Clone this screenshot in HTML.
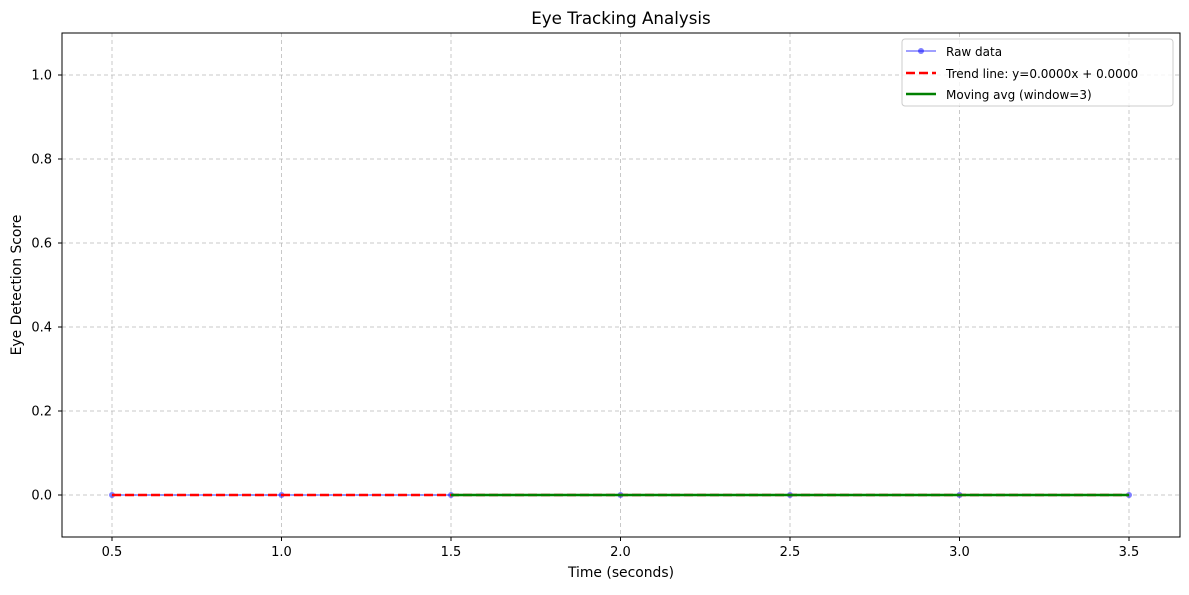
<!DOCTYPE html>
<html><head><meta charset="utf-8"><style>
body{margin:0;background:#fff;font-family:"Liberation Sans","DejaVu Sans",sans-serif}
svg text{font-family:"DejaVu Sans","Liberation Sans",sans-serif}
</style></head><body>
<svg id="chart" width="1189" height="590" xmlns="http://www.w3.org/2000/svg">
<rect width="1189" height="590" fill="#fff"/>
<g id="grid"></g><g id="series"></g>
<rect x="62" y="33" width="1118" height="504" fill="none" stroke="#000" stroke-width="1"/>
<g id="ticks"></g>
<text x="621" y="24" text-anchor="middle" font-size="16.7">Eye Tracking Analysis</text>
<text x="621" y="577" text-anchor="middle" font-size="13.9">Time (seconds)</text>
<text transform="translate(21,285) rotate(-90)" text-anchor="middle" font-size="13.9">Eye Detection Score</text>
<g>
<rect x="902" y="39" width="271" height="67" rx="3" fill="#fff" fill-opacity="0.8" stroke="#ccc"/>
<g><line x1="906" y1="51" x2="936" y2="51" stroke="#0000ff" stroke-opacity="0.5" stroke-width="1.5"/><circle cx="921" cy="51" r="3" fill="#0000ff" fill-opacity="0.5"/><text x="946" y="56" font-size="12">Raw data</text></g>
<g><line x1="906" y1="73" x2="936" y2="73" stroke="#ff0000" stroke-width="2.5" stroke-dasharray="9,4"/><text x="946" y="78" font-size="12">Trend line: y=0.0000x + 0.0000</text></g>
<g><line x1="906" y1="94" x2="936" y2="94" stroke="#008000" stroke-width="2.5"/><text x="946" y="99" font-size="12">Moving avg (window=3)</text></g>
</g>
</svg>
<script>
const times=[0.5,1.0,1.5,2.0,2.5,3.0,3.5];
const rawScores=[0,0,0,0,0,0,0];
const trendSlope=0, trendIntercept=0;
const maTimes=[1.5,2.0,2.5,3.0,3.5];
const maScores=[0,0,0,0,0];
const xTicks=[0.5,1.0,1.5,2.0,2.5,3.0,3.5];
const yTicks=[0.0,0.2,0.4,0.6,0.8,1.0];
const NS="http://www.w3.org/2000/svg";
const xs=v=>112+(v-0.5)*339, ys=v=>495-v*420;
function mk(t,a,p){const e=document.createElementNS(NS,t);for(const k in a)e.setAttribute(k,a[k]);p.appendChild(e);return e;}
const G=document.getElementById('grid'),S=document.getElementById('series'),T=document.getElementById('ticks');
xTicks.forEach(v=>{const x=xs(v);
const g=mk('line',{x1:x,x2:x,y1:33,y2:537,stroke:'#b0b0b0','stroke-opacity':0.7,'stroke-dasharray':'4,3'},G);

mk('line',{x1:x,x2:x,y1:537,y2:541,stroke:'#000'},T);
const t=mk('text',{x:x,y:556,'text-anchor':'middle','font-size':13},T);t.textContent=v.toFixed(1);
});
yTicks.forEach(v=>{const y=ys(v);
const g=mk('line',{x1:62,x2:1180,y1:y,y2:y,stroke:'#b0b0b0','stroke-opacity':0.7,'stroke-dasharray':'4,3'},G);

mk('line',{x1:58,x2:62,y1:y,y2:y,stroke:'#000'},T);
const t=mk('text',{x:52,y:y+4.5,'text-anchor':'end','font-size':13},T);t.textContent=v.toFixed(1);
});
const raw=mk('polyline',{points:times.map((t,i)=>xs(t)+','+ys(rawScores[i])).join(' '),fill:'none',stroke:'#0000ff','stroke-opacity':0.5,'stroke-width':1.5},S);

times.forEach((t,i)=>{const c=mk('circle',{cx:xs(t),cy:ys(rawScores[i]),r:3,fill:'#0000ff','fill-opacity':0.5},S);
});
const t0=times[0],t1=times[times.length-1];
const tr=mk('line',{x1:xs(t0),y1:ys(trendSlope*t0+trendIntercept),x2:xs(t1),y2:ys(trendSlope*t1+trendIntercept),stroke:'#ff0000','stroke-width':2.5,'stroke-dasharray':'9,4'},S);

const ma=mk('polyline',{points:maTimes.map((t,i)=>xs(t)+','+ys(maScores[i])).join(' '),fill:'none',stroke:'#008000','stroke-width':2.5},S);

</script>
</body></html>
